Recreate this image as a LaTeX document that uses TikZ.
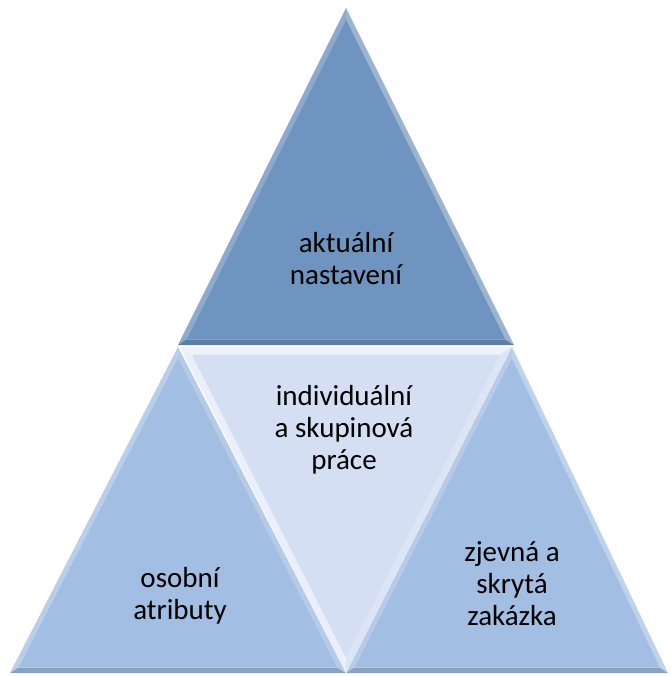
\documentclass[tikz,border=0pt]{standalone}
\usepackage{fontspec}
\setmainfont{Carlito}
\usetikzlibrary{calc}
\definecolor{topc}{RGB}{112,148,192}
\definecolor{sidec}{RGB}{162,190,226}
\definecolor{midc}{RGB}{212,223,243}
\tikzset{lbl/.style={align=center,font=\fontsize{29}{32}\selectfont,text=black,inner sep=0pt}}
% #1,#2,#3 vertices, #4 base colour, #5 inset fraction, #6 #7 #8 facet colours (AB, BC, CA)
\newcommand{\bevtri}[8]{%
  \coordinate (tA) at (#1); \coordinate (tB) at (#2); \coordinate (tC) at (#3);
  \coordinate (tG) at ($(tA)!2/3!($(tB)!0.5!(tC)$)$);
  \coordinate (iA) at ($(tA)!#5!(tG)$);
  \coordinate (iB) at ($(tB)!#5!(tG)$);
  \coordinate (iC) at ($(tC)!#5!(tG)$);
  \fill[#6] (tA) -- (tB) -- (iB) -- (iA) -- cycle;
  \fill[#7] (tB) -- (tC) -- (iC) -- (iB) -- cycle;
  \fill[#8] (tC) -- (tA) -- (iA) -- (iC) -- cycle;
  \fill[#4] (iA) -- (iB) -- (iC) -- cycle;
}
\begin{document}
\begin{tikzpicture}[x=1pt,y=-1pt]
\useasboundingbox (0,0) rectangle (670,676);
\bevtri{346,8}{178,345}{514,345}{topc}{0.05}{topc!80!white}{topc!85!black}{topc!70!white}
\bevtri{178,347}{10,673}{346,673}{sidec}{0.05}{sidec!75!white}{sidec!85!black}{sidec!80!white}
\bevtri{512,347}{346,673}{668,673}{sidec}{0.05}{sidec!80!white}{sidec!85!black}{sidec!70!white}
\bevtri{512,347}{180,347}{346,673}{midc}{0.07}{midc!40!white}{midc!50!white}{midc!80!white}
\node[lbl] (top) at (346,259) {aktuální\\nastavení};
\node[lbl] (mid) at (344,430) {individuální\\a skupinová\\práce};
\node[lbl] (left) at (180,596) {osobní\\atributy};
\node[lbl] (right) at (512,584) {zjevná a\\skrytá\\zakázka};
\end{tikzpicture}
\end{document}
